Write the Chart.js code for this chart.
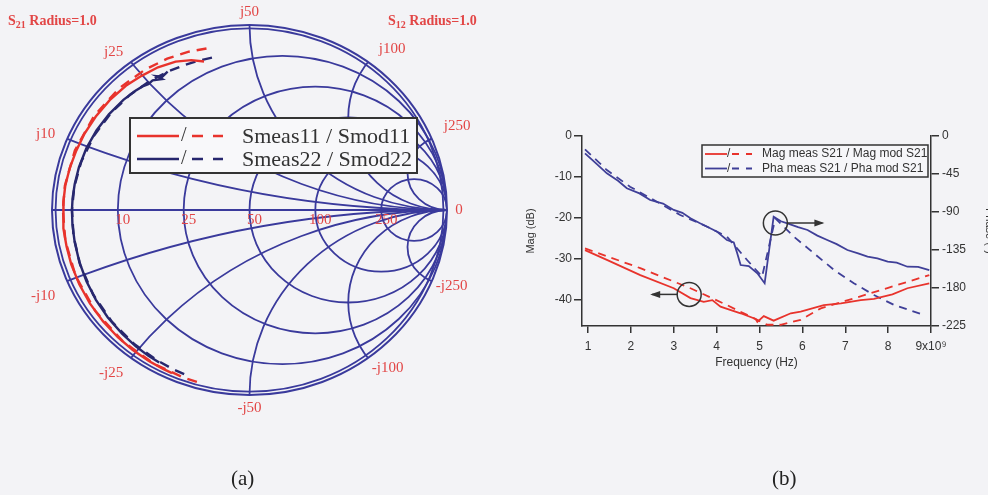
<!DOCTYPE html>
<html>
<head>
<meta charset="utf-8">
<script src="https://cdn.jsdelivr.net/npm/chart.js@4.4.1/dist/chart.umd.min.js"></script>
<style>
  html, body { margin: 0; padding: 0; width: 988px; height: 495px; overflow: hidden; background: #f3f3f6; }
  #wrapA { position: absolute; left: 0; top: 0; width: 494px; height: 495px; }
  #wrapB { position: absolute; left: 494px; top: 0; width: 506px; height: 495px; }
  .cap { position: absolute; top: 466px; font: 21px "Liberation Serif", serif; color: #222; }
</style>
</head>
<body>
<div id="wrapA"><canvas id="smith" width="494" height="495"></canvas></div>
<div id="wrapB"><canvas id="s21" width="506" height="495"></canvas></div>
<div class="cap" style="left:231px">(a)</div>
<div class="cap" style="left:772px">(b)</div>
<script>
// ---------- (a) Smith chart: reflection coefficients (magnitude, angle in degrees) ----------
const s11MeasMag = [0.835, 0.862, 0.885, 0.9, 0.908, 0.918, 0.924, 0.928, 0.932, 0.934, 0.938, 0.942, 0.943, 0.944, 0.946, 0.947, 0.949, 0.951, 0.953, 0.955, 0.958, 0.96, 0.962, 0.964, 0.965];
const s11MeasAng = [106, 110, 115, 121, 127, 133, 140, 147, 154, 160, 166, 172, 177, 181, 186, 192, 198, 205, 212, 219, 226, 232, 238, 243, 246];
const s11ModMag = [0.9, 0.91, 0.918, 0.925, 0.932, 0.937, 0.941, 0.944, 0.945, 0.947, 0.95, 0.953, 0.957, 0.962, 0.966, 0.968];
const s11ModAng = [104, 110, 117, 125, 135, 147, 160, 172, 180, 190, 202, 215, 228, 240, 250, 255];
const s22MeasMag = [0.855, 0.845, 0.862, 0.835, 0.855, 0.852, 0.86, 0.866, 0.873, 0.88, 0.886, 0.891, 0.894, 0.896, 0.898, 0.899, 0.9, 0.902, 0.906, 0.911, 0.917, 0.923, 0.929, 0.935, 0.94, 0.943];
const s22MeasAng = [119, 121.5, 123, 122, 125, 127, 129, 132, 137, 144, 151, 158, 165, 171, 176, 180, 185, 191, 198, 205, 212, 219, 226, 232, 237, 241];
const s22ModMag = [0.845, 0.847, 0.85, 0.855, 0.861, 0.868, 0.876, 0.884, 0.891, 0.896, 0.899, 0.902, 0.907, 0.914, 0.922, 0.93, 0.938, 0.944, 0.948];
const s22ModAng = [103, 108, 113, 119, 126, 134, 143, 153, 163, 172, 180, 189, 199, 210, 221, 231, 240, 246, 250];

const z0 = 50;
const resistanceOhms = [10, 25, 50, 100, 250];
const reactanceOhms = [10, 25, 50, 100, 250];

// ---------- (b) S21 magnitude and phase versus frequency (GHz) ----------
const magMeasFreq = [0.93, 1.44, 2.22, 3.0, 3.39, 3.7, 3.9, 4.09, 4.56, 4.91, 4.95, 5.1, 5.33, 5.73, 5.96, 6.5, 6.9, 7.36, 7.67, 8.1, 8.45, 8.96];
const magMeasDb   = [-27.8, -30.2, -33.9, -37.1, -39.5, -40.4, -40.0, -41.6, -43.2, -44.6, -45.3, -43.9, -45.0, -43.2, -42.8, -41.2, -40.8, -40.0, -39.7, -38.6, -37.1, -35.9];
const magModFreq  = [0.93, 2.22, 3.39, 4.24, 4.71, 5.18, 5.49, 5.96, 6.43, 7.0, 7.5, 8.0, 8.5, 8.96];
const magModDb    = [-27.4, -32.2, -37.1, -41.2, -43.6, -46.0, -46.0, -44.8, -42.0, -40.2, -38.6, -37.0, -35.4, -33.9];
const phaMeasFreq = [0.93, 1.2, 1.44, 1.7, 1.905, 2.2, 2.45, 2.75, 3.0, 3.2, 3.39, 3.6, 3.78, 4.0, 4.24, 4.4, 4.48, 4.56, 4.75, 4.95, 5.12, 5.33, 5.5, 5.65, 5.9, 6.12, 6.35, 6.58, 6.8, 7.05, 7.3, 7.52, 7.75, 7.99, 8.2, 8.45, 8.7, 8.96];
const phaMeasDeg  = [-20.5, -33, -44.2, -53, -61.9, -68, -75.8, -80, -87.6, -91, -97.5, -103, -107.4, -113, -123.2, -126, -138.9, -152.8, -154, -162.6, -174.4, -95.5, -101, -103.4, -108, -111.3, -118, -123.2, -128, -135, -139, -142.9, -145, -148.8, -150, -154.8, -155, -158.7];
const phaModFreq  = [0.93, 1.44, 1.98, 3.15, 3.78, 4.24, 4.71, 5.06, 5.37, 5.8, 6.27, 6.74, 7.2, 7.67, 8.14, 8.84];
const phaModDeg   = [-15.8, -40.3, -60, -93.5, -107.4, -119.2, -146.8, -166.6, -97.5, -119.2, -138.9, -158.7, -174.4, -188.3, -200.1, -212];

const freqTicks  = [1, 2, 3, 4, 5, 6, 7, 8, 9];
const magTicks   = [0, -10, -20, -30, -40];
const phaseTicks = [0, -45, -90, -135, -180, -225];

// ---------- colours ----------
const RED = '#e8332c';
const NAVY = '#27276e';
const GRID = '#3a3a9c';
const LABEL_RED = '#e24646';
const INK = '#333333';
const BLUE = '#3f3f98';

const DEG = Math.PI / 180;
const polarPts = (mag, ang) => mag.map((m, i) => ({ x: m * Math.cos(ang[i] * DEG), y: m * Math.sin(ang[i] * DEG) }));
const xyPts = (xs, ys) => xs.map((v, i) => ({ x: v, y: ys[i] }));

// small hand adjustments of the rim labels (pixels)
const rimNudge = { 'j250': [0, -8], '-j10': [0, 10], '-j250': [-8, 0], 'j100': [3, -3], '-j25': [0, 5], '-j100': [-4, 0] };

// Smith chart grid, labels and legend
const smithDecor = {
  id: 'smithDecor',
  beforeDatasetsDraw(chart) {
    const { ctx, scales: { x, y } } = chart;
    const sx = (x.getPixelForValue(1) - x.getPixelForValue(-1)) / 2;
    const sy = (y.getPixelForValue(-1) - y.getPixelForValue(1)) / 2;
    const ell = (gx, gy, r) => {
      ctx.beginPath();
      ctx.ellipse(x.getPixelForValue(gx), y.getPixelForValue(gy), r * sx, r * sy, 0, 0, Math.PI * 2);
    };
    ctx.save();
    ctx.strokeStyle = GRID;
    ctx.lineWidth = 1.8;
    ell(0, 0, 1);
    ctx.clip();
    resistanceOhms.forEach(R => { const r = R / z0; ell(r / (1 + r), 0, 1 / (1 + r)); ctx.stroke(); });
    reactanceOhms.forEach(X => {
      const xn = X / z0;
      ell(1, 1 / xn, 1 / xn); ctx.stroke();
      ell(1, -1 / xn, 1 / xn); ctx.stroke();
    });
    ctx.beginPath();
    ctx.moveTo(x.getPixelForValue(-1), y.getPixelForValue(0));
    ctx.lineTo(x.getPixelForValue(1), y.getPixelForValue(0));
    ctx.stroke();
    ell(0, 0, 0.982); ctx.stroke();
    ctx.restore();
    ctx.save();
    ctx.strokeStyle = GRID;
    ctx.lineWidth = 2;
    ell(0, 0, 1); ctx.stroke();
    ctx.restore();
  },
  afterDraw(chart) {
    const { ctx, scales: { x, y } } = chart;
    ctx.save();
    ctx.fillStyle = LABEL_RED;
    ctx.font = '15px "Liberation Serif", serif';
    ctx.textBaseline = 'middle';
    ctx.textAlign = 'center';
    // resistance values along the real axis
    resistanceOhms.forEach(R => {
      const r = R / z0;
      ctx.fillText(String(R), x.getPixelForValue((r - 1) / (r + 1)) + 5, y.getPixelForValue(0) + 10);
    });
    ctx.fillText('0', x.getPixelForValue(1) + 12, y.getPixelForValue(0));
    // reactance values around the rim
    reactanceOhms.forEach(X => {
      const xn = X / z0;
      [1, -1].forEach(s => {
        const gx = (xn * xn - 1) / (xn * xn + 1);
        const gy = s * 2 * xn / (xn * xn + 1);
        const text = (s < 0 ? '-j' : 'j') + X;
        const nudge = rimNudge[text] || [0, 0];
        const px = x.getPixelForValue(gx) + gx * 13 + nudge[0];
        const py = y.getPixelForValue(gy) - gy * 13 + nudge[1];
        ctx.textAlign = Math.abs(gx) < 0.2 ? 'center' : (gx < 0 ? 'right' : 'left');
        ctx.fillText(text, px, py);
      });
    });
    // radius captions
    const caption = (left, sub) => {
      ctx.textAlign = 'left';
      ctx.textBaseline = 'alphabetic';
      ctx.font = 'bold 14px "Liberation Serif", serif';
      ctx.fillText('S', left, 25);
      const w = ctx.measureText('S').width;
      ctx.font = 'bold 10px "Liberation Serif", serif';
      ctx.fillText(sub, left + w, 28);
      const w2 = ctx.measureText(sub).width;
      ctx.font = 'bold 14px "Liberation Serif", serif';
      ctx.fillText(' Radius=1.0', left + w + w2, 25);
    };
    caption(8, '21');
    caption(388, '12');

    // legend
    ctx.fillStyle = '#f8f8fa';
    ctx.fillRect(130, 118, 287, 55);
    ctx.strokeStyle = INK;
    ctx.lineWidth = 2;
    ctx.strokeRect(130, 118, 287, 55);
    const rows = [
      { color: RED, text: 'Smeas11 / Smod11', y: 136 },
      { color: NAVY, text: 'Smeas22 / Smod22', y: 159 }
    ];
    rows.forEach(r => {
      ctx.strokeStyle = r.color;
      ctx.lineWidth = 2.5;
      ctx.setLineDash([]);
      ctx.beginPath(); ctx.moveTo(137, r.y); ctx.lineTo(179, r.y); ctx.stroke();
      ctx.beginPath(); ctx.moveTo(192, r.y); ctx.lineTo(203, r.y); ctx.moveTo(213, r.y); ctx.lineTo(223, r.y); ctx.stroke();
      ctx.fillStyle = INK;
      ctx.textAlign = 'left';
      ctx.textBaseline = 'middle';
      ctx.font = '20px "Liberation Serif", serif';
      ctx.fillText('/', 181, r.y);
      ctx.font = '22px "Liberation Serif", serif';
      ctx.fillText(r.text, 242, r.y + 1);
    });
    ctx.restore();
  }
};

const traceDs = (label, pts, color, dashed) => ({
  label, data: pts, showLine: true, pointRadius: 0, borderColor: color,
  borderWidth: 2.4, borderDash: dashed ? [10, 7] : [], tension: 0
});

new Chart(document.getElementById('smith'), {
  type: 'scatter',
  data: {
    datasets: [
      traceDs('Smeas11', polarPts(s11MeasMag, s11MeasAng), RED, false),
      traceDs('Smod11', polarPts(s11ModMag, s11ModAng), RED, true),
      traceDs('Smeas22', polarPts(s22MeasMag, s22MeasAng), NAVY, false),
      traceDs('Smod22', polarPts(s22ModMag, s22ModAng), NAVY, true)
    ]
  },
  options: {
    responsive: false,
    animation: false,
    events: [],
    layout: { padding: { left: 52, right: 47, top: 25, bottom: 100 } },
    plugins: { legend: { display: false }, tooltip: { enabled: false } },
    scales: {
      x: { type: 'linear', min: -1, max: 1, display: false },
      y: { type: 'linear', min: -1, max: 1, display: false }
    }
  },
  plugins: [smithDecor]
});

// ---------- (b) ----------
const FONT = { family: '"Liberation Sans", Arial, sans-serif', size: 12 };

const s21Decor = {
  id: 's21Decor',
  afterDraw(chart) {
    const { ctx, scales } = chart;
    ctx.save();
    // call-out circles with arrows pointing to the relevant axis
    const callout = (px, py, dir) => {
      const r = 12;
      ctx.strokeStyle = INK;
      ctx.fillStyle = INK;
      ctx.lineWidth = 1.5;
      ctx.beginPath(); ctx.arc(px, py, r, 0, Math.PI * 2); ctx.stroke();
      const x0 = px + dir * r, x1 = px + dir * (r + (dir > 0 ? 35 : 25));
      ctx.beginPath(); ctx.moveTo(x0, py); ctx.lineTo(x1, py); ctx.stroke();
      ctx.beginPath();
      ctx.moveTo(x1 + dir * 2, py);
      ctx.lineTo(x1 - dir * 8, py - 3.5);
      ctx.lineTo(x1 - dir * 8, py + 3.5);
      ctx.closePath(); ctx.fill();
    };
    callout(scales.x.getPixelForValue(5.37), scales.yPha.getPixelForValue(-103), 1);
    callout(scales.x.getPixelForValue(3.36), scales.yMag.getPixelForValue(-38.6), -1);

    // legend
    const bx = 208, by = 145, bw = 226, bh = 32;
    ctx.fillStyle = '#f6f6f9';
    ctx.fillRect(bx, by, bw, bh);
    ctx.strokeStyle = INK;
    ctx.lineWidth = 1.5;
    ctx.strokeRect(bx, by, bw, bh);
    const rows = [
      { color: RED, text: 'Mag meas S21 / Mag mod S21', y: by + 9 },
      { color: BLUE, text: 'Pha meas S21 / Pha mod S21', y: by + 23.5 }
    ];
    rows.forEach(r => {
      ctx.strokeStyle = r.color;
      ctx.lineWidth = 1.8;
      ctx.beginPath(); ctx.moveTo(bx + 3, r.y); ctx.lineTo(bx + 25, r.y); ctx.stroke();
      ctx.beginPath(); ctx.moveTo(bx + 30, r.y); ctx.lineTo(bx + 37, r.y); ctx.moveTo(bx + 44, r.y); ctx.lineTo(bx + 50, r.y); ctx.stroke();
      ctx.fillStyle = INK;
      ctx.font = '12px "Liberation Sans", Arial, sans-serif';
      ctx.textBaseline = 'middle';
      ctx.textAlign = 'left';
      ctx.fillText('/', bx + 25, r.y);
      ctx.fillText(r.text, bx + 60, r.y);
    });
    ctx.restore();
  }
};

const lineDs = (label, pts, color, dashed, axis) => ({
  label, data: pts, showLine: true, pointRadius: 0, borderColor: color,
  borderWidth: 1.8, borderDash: dashed ? [8, 6] : [], yAxisID: axis, tension: 0
});

const axisStyle = {
  border: { display: true, color: INK, width: 1.5 },
  grid: { drawOnChartArea: false, color: INK, tickLength: 8, lineWidth: 1.5 }
};

new Chart(document.getElementById('s21'), {
  type: 'scatter',
  data: {
    datasets: [
      lineDs('Mag meas S21', xyPts(magMeasFreq, magMeasDb), RED, false, 'yMag'),
      lineDs('Mag mod S21', xyPts(magModFreq, magModDb), RED, true, 'yMag'),
      lineDs('Pha meas S21', xyPts(phaMeasFreq, phaMeasDeg), BLUE, false, 'yPha'),
      lineDs('Pha mod S21', xyPts(phaModFreq, phaModDeg), BLUE, true, 'yPha')
    ]
  },
  options: {
    responsive: false,
    animation: false,
    events: [],
    layout: { padding: { left: 28, right: 0, top: 136, bottom: 121 } },
    plugins: { legend: { display: false }, tooltip: { enabled: false } },
    scales: {
      x: {
        type: 'linear', min: 0.86, max: 9.0,
        ...axisStyle,
        grid: { drawOnChartArea: false, color: INK, tickLength: 7, lineWidth: 1.5 },
        afterBuildTicks: s => { s.ticks = freqTicks.map(v => ({ value: v })); },
        afterFit: s => { s.height = 48; },
        ticks: { font: FONT, color: INK, padding: 6, maxRotation: 0, callback: v => (v === 9 ? '9x10\u2079' : String(v)) },
        title: { display: true, text: 'Frequency (Hz)', font: FONT, color: INK, padding: { top: 4, bottom: 4 } }
      },
      yMag: {
        type: 'linear', position: 'left', min: -46.3, max: 0,
        ...axisStyle,
        afterBuildTicks: s => { s.ticks = magTicks.map(v => ({ value: v })); },
        afterFit: s => { s.width = 60; },
        ticks: { font: FONT, color: INK, padding: 2 },
        title: { display: true, text: 'Mag (dB)', font: { family: FONT.family, size: 11 }, color: INK, padding: { top: 2, bottom: 2 } }
      },
      yPha: {
        type: 'linear', position: 'right', min: -225, max: 0,
        ...axisStyle,
        afterBuildTicks: s => { s.ticks = phaseTicks.map(v => ({ value: v })); },
        afterFit: s => { s.width = 69; },
        ticks: { font: FONT, color: INK, padding: 3 },
        title: { display: true, text: 'Phase (\u00b0)', font: { family: FONT.family, size: 11 }, color: INK, padding: { top: 4, bottom: 4 } }
      }
    }
  },
  plugins: [s21Decor]
});
</script>
</body>
</html>
